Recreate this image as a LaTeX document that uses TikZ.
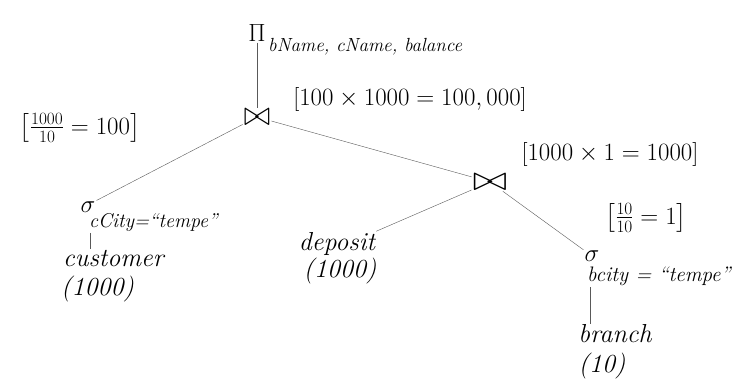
\documentclass[tikz,border=0pt]{standalone}
\usepackage{amssymb}
\usepackage{graphicx}
\tikzset{
  edge/.style={gray!70!black, thin},
  lbl/.style={inner sep=1pt, font=\fontsize{26}{29}\selectfont\itshape},
  cost/.style={inner sep=1pt, font=\fontsize{24}{28}\selectfont},
  op/.style={inner sep=1pt, font=\fontsize{26}{30}\selectfont}
}
\newcommand{\bigjoin}[1]{\scalebox{#1}[1.4]{$\bowtie$}}
\begin{document}
\begin{tikzpicture}[x=1pt, y=-1pt]
  \useasboundingbox (0,0) rectangle (733,387);
  % operators
  \node[op] (pi) at (257,33) {$\Pi$};
  \node[lbl, anchor=base west, font=\fontsize{19}{22}\selectfont\itshape] (proj) at (267,52) {bName, cName, balance};
  \node[op] (join1) at (257,117) {\bigjoin{1.3}};
  \node[op] (join2) at (490,182) {\bigjoin{1.7}};
  \node[op] (sigmac) at (88,207) {$\sigma$};
  \node[lbl, anchor=base west, font=\fontsize{20}{24}\selectfont\itshape] (condc) at (88,228) {cCity=``tempe''};
  \node[op] (sigmab) at (592,256) {$\sigma$};
  \node[lbl, anchor=base west, font=\fontsize{21}{24}\selectfont\itshape] (condb) at (586,281) {bcity = ``tempe''};
  % relations
  \node[lbl, anchor=base west] (cust) at (62,266) {customer};
  \node[lbl, anchor=base west] (custn) at (60,295) {(1000)};
  \node[lbl] (dep) at (337,244) {deposit};
  \node[lbl] (depn) at (340,271) {(1000)};
  \node[lbl] (branch) at (615,334) {branch};
  \node[lbl] (branchn) at (602,366) {(10)};
  % sizes
  \node[cost] at (410,100) {[$100\times1000 = 100,000$]};
  \node[cost] at (610,155) {[$1000\times1 = 1000$]};
  \node[cost] at (80,128) {$\left[\frac{1000}{10} = 100\right]$};
  \node[cost] at (646,218) {$\left[\frac{10}{10} = 1\right]$};
  % edges
  \draw[edge] (pi.south) -- (join1);
  \draw[edge] (join1) -- (join2);
  \draw[edge] (join1) -- (sigmac.north east);
  \draw[edge] (join2) -- (dep.north east);
  \draw[edge] (join2) -- (sigmab);
  \draw[edge] (90,233) -- (cust.north west -| 90,0);
  \draw[edge] (590,287) -- (branch.north west -| 590,0);
\end{tikzpicture}
\end{document}
